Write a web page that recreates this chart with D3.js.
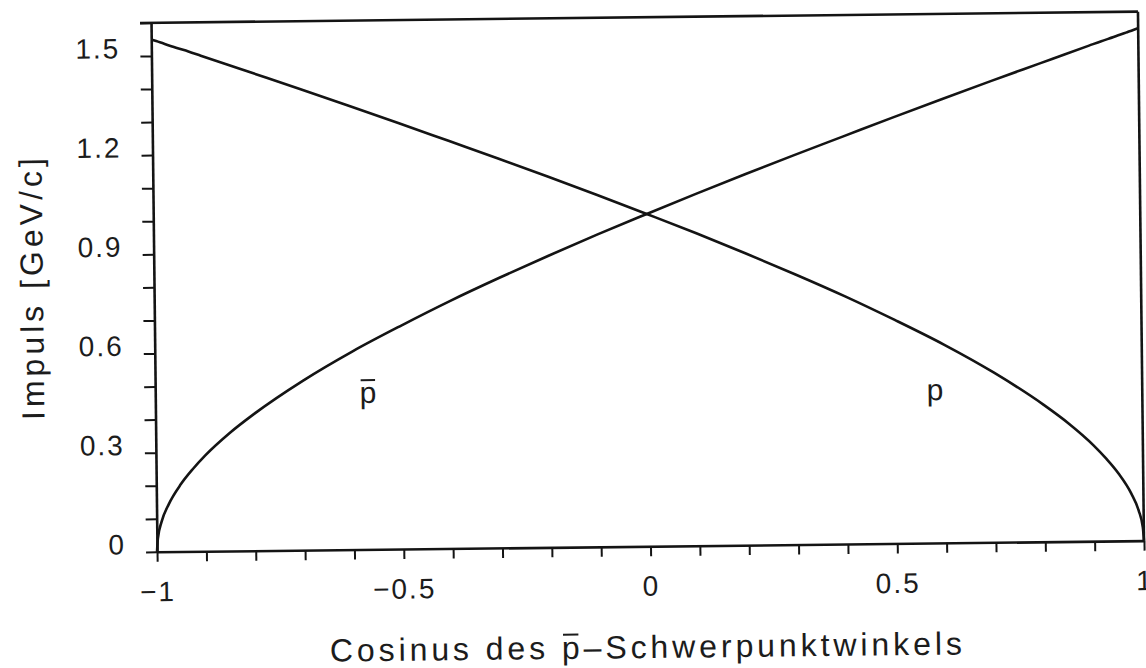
<!DOCTYPE html>
<html>
<head>
<meta charset="utf-8">
<script src="https://cdn.jsdelivr.net/npm/d3@7"></script>
<style>
  html, body { margin: 0; padding: 0; background: #fff; }
  svg { display: block; }
  text { font-family: "Liberation Sans", Arial, Helvetica, sans-serif; fill: #1c1c1c; }
</style>
</head>
<body>
<svg id="chart" width="1146" height="668"></svg>
<script>
// cos of the antiproton CM scattering angle
const cosTheta = [-1, -0.998, -0.99, -0.975, -0.95, -0.925, -0.9, -0.85, -0.8, -0.7, -0.6, -0.5, -0.4,
  -0.3, -0.2, -0.1, 0, 0.1, 0.2, 0.3, 0.4, 0.5, 0.6, 0.7, 0.8, 0.85, 0.9, 0.925, 0.95, 0.975, 0.99, 0.998, 1];

// lab momentum of the scattered antiproton [GeV/c]
const pbarMomentum = [0, 0.040, 0.091, 0.144, 0.204, 0.250, 0.290, 0.357, 0.414, 0.513, 0.599, 0.676, 0.749,
  0.817, 0.882, 0.945, 1.005, 1.064, 1.122, 1.178, 1.233, 1.288, 1.342, 1.395, 1.447, 1.473, 1.499, 1.512, 1.524, 1.537, 1.545, 1.549, 1.550];

// lab momentum of the recoil proton [GeV/c]
const pMomentum = [1.550, 1.549, 1.545, 1.537, 1.524, 1.512, 1.499, 1.473, 1.447, 1.395, 1.342, 1.288, 1.233,
  1.178, 1.122, 1.064, 1.005, 0.945, 0.882, 0.817, 0.749, 0.676, 0.599, 0.513, 0.414, 0.357, 0.290, 0.250, 0.204, 0.144, 0.091, 0.040, 0];

const xTicks = d3.range(-10, 11).map(i => i / 10);
const xTickLabels = [-1, -0.5, 0, 0.5, 1];
const yTicks = d3.range(0, 17).map(i => i / 10);
const yTickLabels = [0, 0.3, 0.6, 0.9, 1.2, 1.5];

const curveLabels = [
  { text: "p", barred: true,  cos: -0.569, mom: 0.443 },
  { text: "p", barred: false, cos: 0.580,  mom: 0.432 }
];

const xTitle = "Cosinus des p\u2013Schwerpunktwinkels";
const yTitle = "Impuls [GeV/c]";

const svg = d3.select("#chart");
const ink = "#141414";

const plot = { left: 154, right: 1141, top: 17.25, bottom: 546.25 };

const x = d3.scaleLinear().domain([-1, 1]).range([plot.left, plot.right]);
const y = d3.scaleLinear().domain([0, 1.6]).range([plot.bottom, plot.top]);

// the whole sheet sits slightly tilted
const sheet = svg.append("g").attr("transform", "rotate(-0.65, 647, 281.75)");

const fmt = d3.format(".1~f");
const xLabelSet = new Set(xTickLabels);
const yLabelSet = new Set(yTickLabels);

// bottom axis
const gx = sheet.append("g")
  .attr("transform", `translate(0,${plot.bottom})`)
  .call(d3.axisBottom(x).tickValues(xTicks).tickSize(10).tickSizeOuter(0)
    .tickFormat(v => xLabelSet.has(v) ? fmt(v) : ""));

// left axis
const gy = sheet.append("g")
  .attr("transform", `translate(${plot.left},0)`)
  .call(d3.axisLeft(y).tickValues(yTicks).tickSize(11).tickSizeOuter(0)
    .tickFormat(v => yLabelSet.has(v) ? fmt(v) : ""));

[gx, gy].forEach(g => {
  g.select(".domain").attr("stroke", ink).attr("stroke-width", 2.6);
  g.selectAll(".tick line").attr("stroke", ink).attr("stroke-width", 2);
  g.selectAll(".tick text")
    .attr("fill", "#1c1c1c")
    .style("font-size", "28px")
    .style("letter-spacing", "2px")
    .attr("font-family", null);
});

gx.selectAll(".tick text").attr("y", 49.5).attr("dy", 0);
gy.selectAll(".tick text").attr("x", -31).attr("y", 1.5).attr("dy", 0);

// top and right frame lines
sheet.append("line")
  .attr("x1", plot.left - 11).attr("x2", plot.right)
  .attr("y1", y(1.6)).attr("y2", y(1.6))
  .attr("stroke", ink).attr("stroke-width", 2.6);
sheet.append("line")
  .attr("x1", plot.right).attr("x2", plot.right)
  .attr("y1", y(1.6)).attr("y2", y(0))
  .attr("stroke", ink).attr("stroke-width", 2.6);

// momentum curves
const line = d3.line()
  .x(d => x(d[0]))
  .y(d => y(d[1]))
  .curve(d3.curveMonotoneX);

[pbarMomentum, pMomentum].forEach(series => {
  sheet.append("path")
    .datum(cosTheta.map((c, i) => [c, series[i]]))
    .attr("fill", "none")
    .attr("stroke", ink)
    .attr("stroke-width", 2.6)
    .attr("stroke-linejoin", "round")
    .attr("d", line);
});

// draws a bar over one character of a text element
function overbar(textEl, index, fontSize, baselineY) {
  const box = textEl.node().getExtentOfChar(index);
  sheet.append("line")
    .attr("x1", box.x + fontSize * 0.04)
    .attr("x2", box.x + fontSize * 0.52)
    .attr("y1", baselineY - fontSize * 0.76)
    .attr("y2", baselineY - fontSize * 0.76)
    .attr("stroke", "#1c1c1c")
    .attr("stroke-width", 2);
}

// curve labels
curveLabels.forEach(d => {
  const t = sheet.append("text")
    .attr("x", x(d.cos))
    .attr("y", y(d.mom))
    .attr("text-anchor", "middle")
    .style("font-size", "30px")
    .text(d.text);
  if (d.barred) overbar(t, 0, 30, y(d.mom));
});

// axis titles
const titleBaseline = 658;
const xt = sheet.append("text")
  .attr("x", 641.7)
  .attr("y", titleBaseline)
  .attr("text-anchor", "middle")
  .attr("textLength", 632)
  .attr("lengthAdjust", "spacing")
  .style("font-size", "32px")
  .text(xTitle);
overbar(xt, 12, 32, titleBaseline);

sheet.append("text")
  .attr("transform", "translate(42.9,282.15) rotate(-90)")
  .attr("text-anchor", "middle")
  .attr("textLength", 262)
  .attr("lengthAdjust", "spacing")
  .style("font-size", "32px")
  .text(yTitle);
</script>
</body>
</html>
